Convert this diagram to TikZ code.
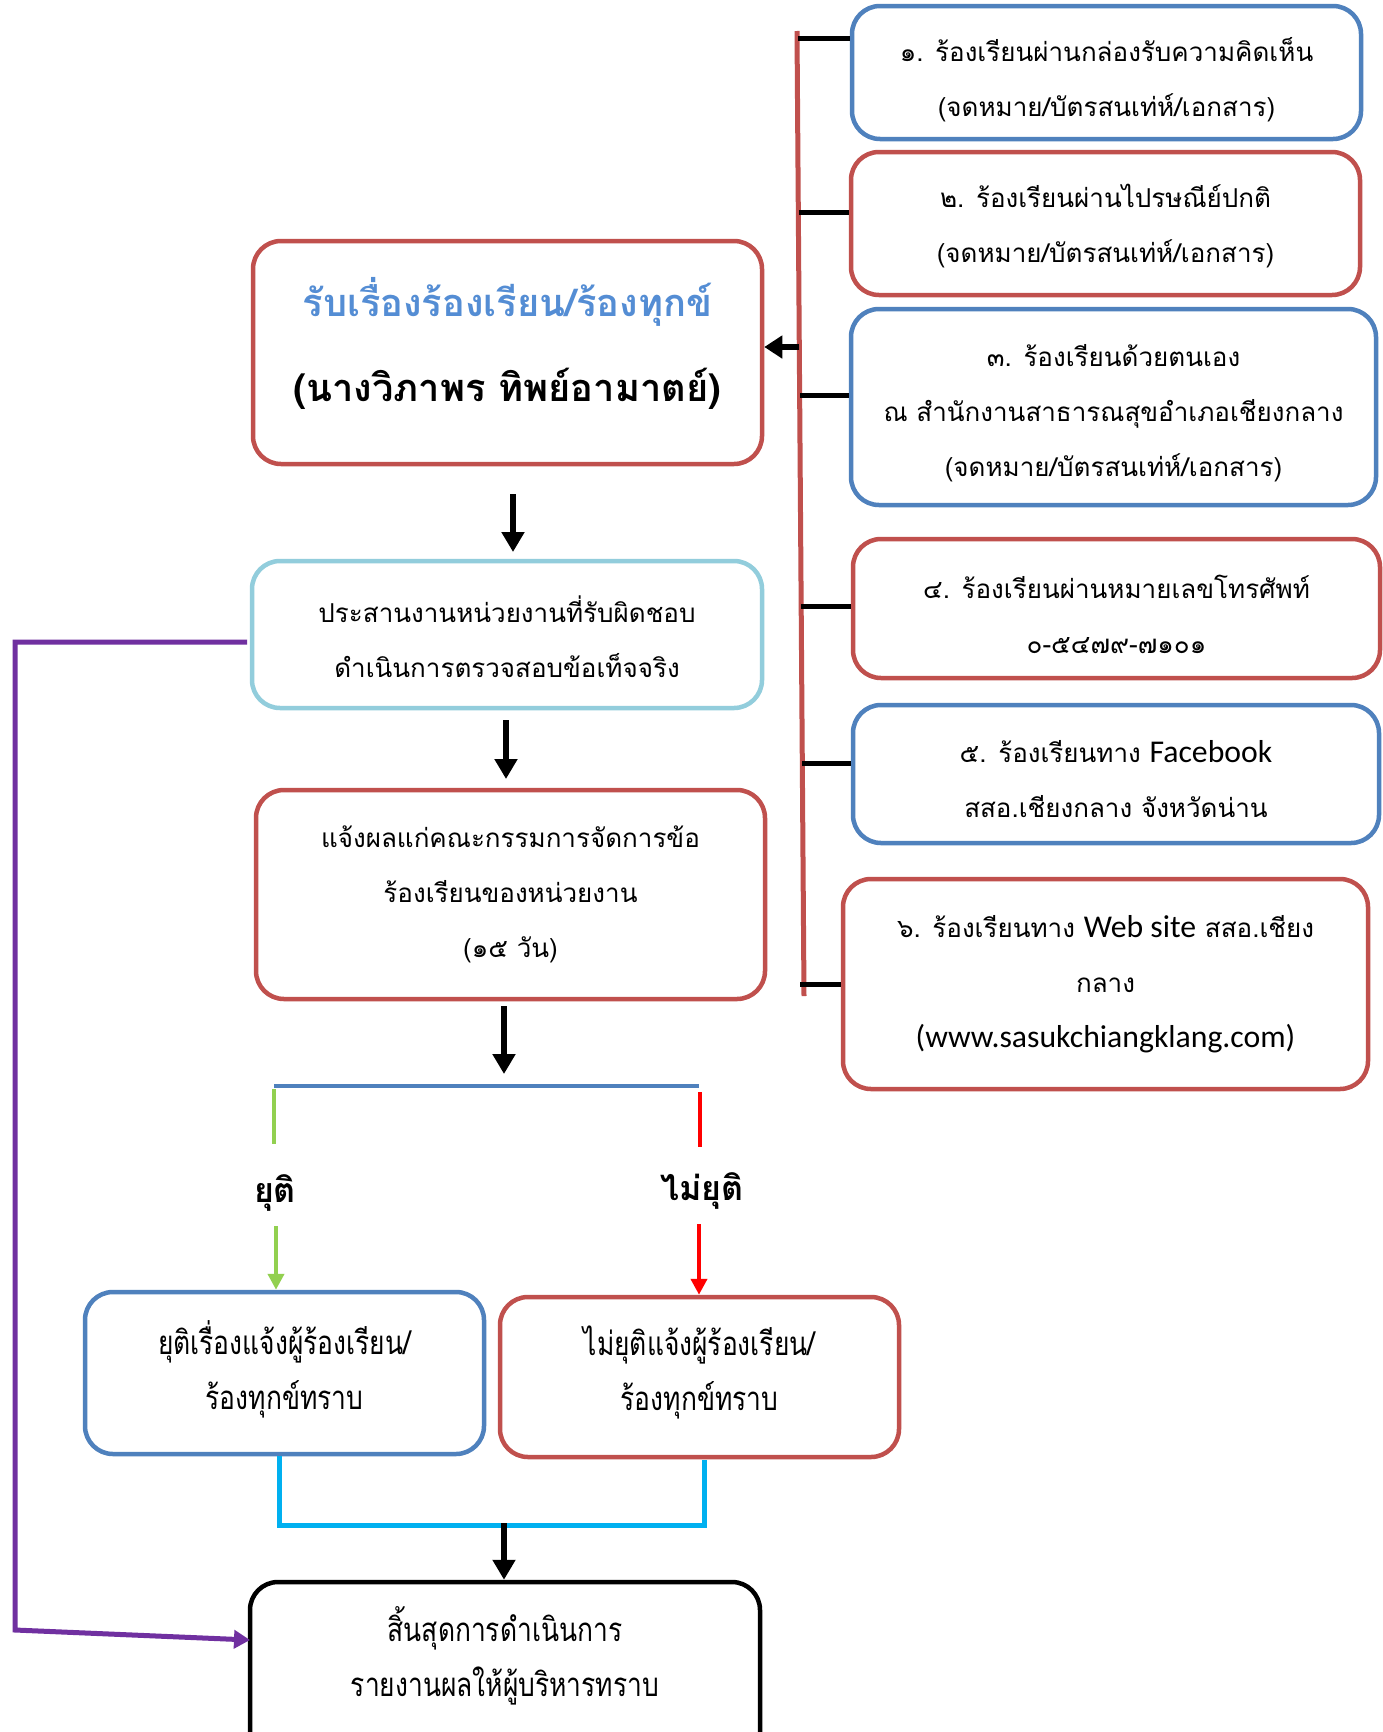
\documentclass[tikz,border=0pt]{standalone}
\usepackage{fontspec}
\newfontfamily\thai[Script=Thai]{Loma}
\newfontfamily\thaic[Script=Thai,FakeStretch=0.8]{Loma}
\newfontfamily\lat[Scale=1.22]{Carlito}
\usetikzlibrary{arrows.meta}
\definecolor{blueB}{RGB}{79,129,189}
\definecolor{redB}{RGB}{192,80,77}
\definecolor{lblue}{RGB}{146,205,220}
\definecolor{purp}{RGB}{112,48,160}
\definecolor{grn}{RGB}{146,208,80}
\definecolor{rd}{RGB}{255,0,0}
\definecolor{cyn}{RGB}{0,176,240}
\definecolor{ttl}{RGB}{84,141,212}
\tikzset{
  bx/.style={draw=#1, line width=4.5pt, rounded corners=28pt, inner sep=0pt},
  txt/.style={align=center, inner sep=0pt, font=\thai\fontsize{26}{55}\selectfont},
  txtc/.style={align=center, inner sep=0pt, font=\thaic\fontsize{33}{55}\selectfont},
  spine/.style={draw=redB, line width=5pt},
  tickln/.style={draw=black, line width=5pt},
  blk/.style={draw=black, line width=6pt, -{Triangle[width=22pt,length=20pt]}},
  splitln/.style={line width=4.5pt},
  lbl/.style={font=\thai\bfseries\fontsize{34}{40}\selectfont, inner sep=0pt}
}
\begin{document}
\begin{tikzpicture}[x=1pt,y=-1pt]
\useasboundingbox (0,0) rectangle (1383,1732);
\clip (0,0) rectangle (1383,1732);
\fill[white] (0,0) rectangle (1383,1732);

% right column boxes
\node[bx=blueB, minimum width=509pt, minimum height=133pt] (b1) at (1106.5,72.5) {};
\node[txt] (b1t) at (1106.5,79.5)
  {๑. ร้องเรียนผ่านกล่องรับความคิดเห็น\\(จดหมาย/บัตรสนเท่ห์/เอกสาร)};
\node[bx=redB, minimum width=509pt, minimum height=143pt] (b2) at (1105.5,223.5) {};
\node[txt] (b2t) at (1105.5,226.4)
  {๒. ร้องเรียนผ่านไปรษณีย์ปกติ\\(จดหมาย/บัตรสนเท่ห์/เอกสาร)};
\node[bx=blueB, minimum width=525pt, minimum height=196pt] (b3) at (1113.5,407) {};
\node[txt] (b3t) at (1113.5,413)
  {๓. ร้องเรียนด้วยตนเอง\\ณ สำนักงานสาธารณสุขอำเภอเชียงกลาง\\(จดหมาย/บัตรสนเท่ห์/เอกสาร)};
\node[bx=redB, minimum width=527pt, minimum height=139pt] (b4) at (1116.5,608.5) {};
\node[txt] (b4t) at (1116.5,614.7)
  {๔. ร้องเรียนผ่านหมายเลขโทรศัพท์\\๐-๕๔๗๙-๗๑๐๑};
\node[bx=blueB, minimum width=526pt, minimum height=138pt] (b5) at (1116,774) {};
\node[txt] (b5t) at (1116,779.3)
  {๕. ร้องเรียนทาง {\lat Facebook}\\สสอ.เชียงกลาง จังหวัดน่าน};
\node[bx=redB, minimum width=525pt, minimum height=210pt] (b6) at (1105.5,984) {};
\node[txt] (b6t) at (1105.5,983.8)
  {๖. ร้องเรียนทาง {\lat Web site} สสอ.เชียง\\กลาง\\{\lat (www.sasukchiangklang.com)}};

% spine and ticks
\coordinate (sTop) at (797,31);
\coordinate (sBot) at (804,996);
\draw[spine] (sTop) -- (sBot);
\coordinate (t1) at (798,38);
\coordinate (t2) at (799,212);
\coordinate (t3) at (800,395);
\coordinate (t4) at (801,606);
\coordinate (t5) at (802,763);
\coordinate (t6) at (800,984);
\draw[tickln] (t1) -- (t1 -| b1.west);
\draw[tickln] (t2) -- (t2 -| b2.west);
\draw[tickln] (t3) -- (t3 -| b3.west);
\draw[tickln] (t4) -- (t4 -| b4.west);
\draw[tickln] (t5) -- (t5 -| b5.west);
\draw[tickln] (t6) -- (t6 -| b6.west);

% main column
\node[bx=redB, minimum width=509pt, minimum height=223pt] (A) at (507.5,352.5) {};
\node[txt, font=\thai\bfseries\fontsize{38}{85}\selectfont] (At) at (507.5,343)
  {{\color{ttl}รับเรื่องร้องเรียน/ร้องทุกข์}\\(นางวิภาพร ทิพย์อามาตย์)};
\coordinate (sA) at (799,347);
\draw[draw=black, line width=6pt, -{Triangle[width=22pt,length=18pt]}] (sA) -- (sA -| A.east);

\node[bx=lblue, minimum width=510pt, minimum height=147pt] (B) at (507,634.5) {};
\node[txt] (Bt) at (507,636.8)
  {ประสานงานหน่วยงานที่รับผิดชอบ\\ดำเนินการตรวจสอบข้อเท็จจริง};
\node[bx=redB, minimum width=509pt, minimum height=209pt] (C) at (510.5,894.5) {};
\node[txt] (Ct) at (510.5,894.7)
  {แจ้งผลแก่คณะกรรมการจัดการข้อ\\ร้องเรียนของหน่วยงาน\\(๑๕ วัน)};

\coordinate (ab1) at (513,494);
\coordinate (ab2) at (513,552);
\draw[blk] (ab1) -- (ab2);
\coordinate (bc1) at (506,720);
\coordinate (bc2) at (506,779);
\draw[blk] (bc1) -- (bc2);
\coordinate (cs1) at (504,1006);
\coordinate (cs2) at (504,1074);
\draw[blk] (cs1) -- (cs2);

% split
\coordinate (sl) at (274,1086);
\coordinate (sr) at (699,1086);
\draw[splitln, draw=blueB] (sl) -- (sr);
\coordinate (g1) at (274,1089);
\coordinate (g2) at (274,1144);
\draw[splitln, draw=grn] (g1) -- (g2);
\coordinate (r1) at (700,1092);
\coordinate (r2) at (700,1147);
\draw[splitln, draw=rd] (r1) -- (r2);
\node[lbl] (yuti) at (275,1192.5) {ยุติ};
\node[lbl] (maiyuti) at (702,1190.5) {ไม่ยุติ};

\node[bx=blueB, minimum width=399pt, minimum height=162pt] (D) at (284.5,1373) {};
\node[txtc] (Dt) at (284.5,1369)
  {ยุติเรื่องแจ้งผู้ร้องเรียน/\\ร้องทุกข์ทราบ};
\node[bx=redB, minimum width=399pt, minimum height=160pt] (E) at (699.5,1377) {};
\node[txtc] (Et) at (699.5,1372)
  {ไม่ยุติแจ้งผู้ร้องเรียน/\\ร้องทุกข์ทราบ};

\coordinate (ga) at (276,1226);
\draw[draw=grn, line width=4pt, -{Triangle[width=16pt,length=16pt]}] (ga) -- (ga |- D.north);
\coordinate (ra) at (699,1224);
\draw[draw=rd, line width=4pt, -{Triangle[width=16pt,length=16pt]}] (ra) -- (ra |- E.north);

% merge
\coordinate (m1) at (279,1456);
\coordinate (m2) at (279,1525);
\coordinate (m3) at (704,1525);
\coordinate (m4) at (704,1460);
\draw[draw=cyn, line width=5pt] (m1) -- (m2) -- (m3) -- (m4);

\node[bx=black, minimum width=510pt, minimum height=190pt] (F) at (505,1677) {};
\node[txtc] (Ft) at (505,1656)
  {สิ้นสุดการดำเนินการ\\รายงานผลให้ผู้บริหารทราบ};
\coordinate (mf) at (504,1523);
\draw[blk] (mf) -- (mf |- F.north);

% purple feedback
\coordinate (p0) at (247,642);
\coordinate (p1) at (15,642);
\coordinate (p2) at (15,1630);
\coordinate (pE) at (250,1640);
\draw[draw=purp, line width=5pt, -{Triangle[width=18pt,length=16pt]}] (p0) -- (p1) -- (p2) -- (pE);
\end{tikzpicture}
\end{document}
